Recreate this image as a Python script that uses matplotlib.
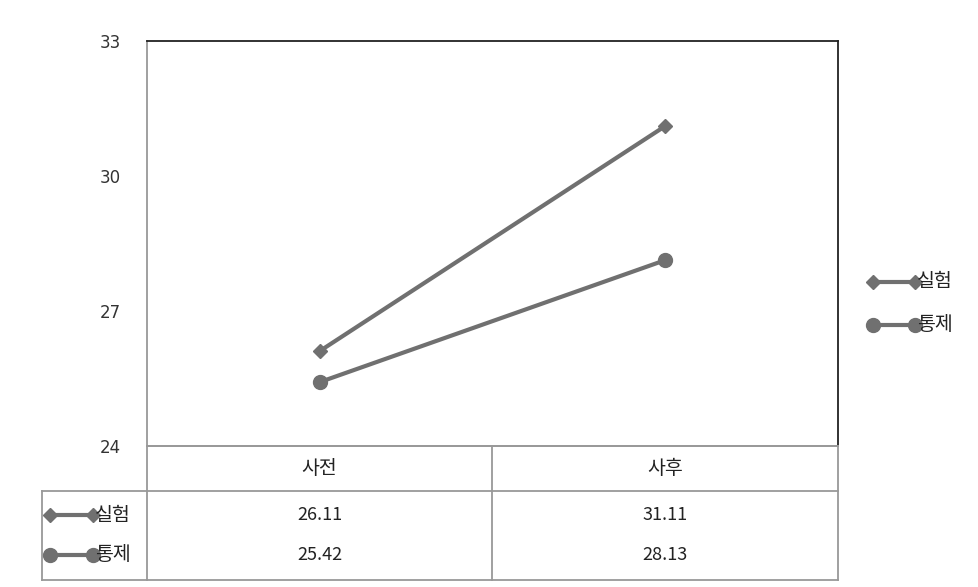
import numpy as np
import matplotlib.pyplot as plt
from matplotlib.lines import Line2D

plt.rcParams['font.family'] = ['Noto Sans CJK KR', 'DejaVu Sans']

# 데이터
categories = ['사전', '사후']
series_names = ['실험', '통제']
exp_values = [26.11, 31.11]
ctl_values = [25.42, 28.13]
yticks = [24, 27, 30, 33]

W, H = 979, 587
fig = plt.figure(figsize=(W / 100, H / 100), dpi=100)

def fx(px):
    return px / W

def fy(py):
    return 1 - py / H

# plot area
L, R, T, B = 147, 838, 41, 446
ax = fig.add_axes([fx(L), fy(B), fx(R) - fx(L), fy(T) - fy(B)])

line_col = '#707070'
lw = 3.0
x = np.arange(len(categories))
ax.plot(x, exp_values, color=line_col, lw=lw, marker='D', ms=7, solid_capstyle='butt')
ax.plot(x, ctl_values, color=line_col, lw=lw, marker='o', ms=10, solid_capstyle='butt')

ax.set_xlim(-0.5, 1.5)
ax.set_ylim(24, 33)
ax.set_yticks(yticks)
ax.set_yticklabels([str(v) for v in yticks], fontsize=12, color='#333333', family='DejaVu Sans')
ax.tick_params(axis='y', length=0, pad=19)
ax.set_xticks([])
ax.spines['top'].set_color('#222222')
ax.spines['right'].set_color('#222222')
ax.spines['left'].set_color('#999999')
ax.spines['bottom'].set_color('#999999')
for s in ax.spines.values():
    s.set_linewidth(1.3)

# table below the plot
grid_col = '#999999'
mid = 492
r1, r2, r3 = 446, 491, 580
tl = 42

def hline(x0, x1, y):
    fig.add_artist(Line2D([fx(x0), fx(x1)], [fy(y), fy(y)], color=grid_col, lw=1.3))

def vline(xp, y0, y1):
    fig.add_artist(Line2D([fx(xp), fx(xp)], [fy(y0), fy(y1)], color=grid_col, lw=1.3))

hline(L, R, r1)
hline(tl, R, r2)
hline(tl, R, r3)
vline(tl, r2, r3)
vline(L, r1, r3)
vline(mid, r1, r3)
vline(R, r1, r3)

col_centers = [(L + mid) / 2, (mid + R) / 2]
for cx, cat in zip(col_centers, categories):
    fig.text(fx(cx), fy((r1 + r2) / 2), cat, ha='center', va='center', fontsize=14, color='#222222')

row_y = [515, 555]
for ry, vals in zip(row_y, [exp_values, ctl_values]):
    for cx, v in zip(col_centers, vals):
        fig.text(fx(cx), fy(ry), f'{v:.2f}', ha='center', va='center', fontsize=13, color='#222222')

markers = ['D', 'o']
msizes = [7, 10]

def legend_key(x0, x1, y, m, ms, name):
    fig.add_artist(Line2D([fx(x0), fx(x1)], [fy(y), fy(y)], color=line_col, lw=lw,
                          marker=m, ms=ms, markevery=[0, 1]))
    fig.text(fx(x1 + 2), fy(y), name, ha='left', va='center', fontsize=14, color='#222222')

for ry, m, ms, name in zip(row_y, markers, msizes, series_names):
    legend_key(50, 93, ry, m, ms, name)

# legend on the right
for ly, m, ms, name in zip([282, 325], markers, msizes, series_names):
    legend_key(873, 915, ly, m, ms, name)

fig.savefig('out.png', dpi=100)
